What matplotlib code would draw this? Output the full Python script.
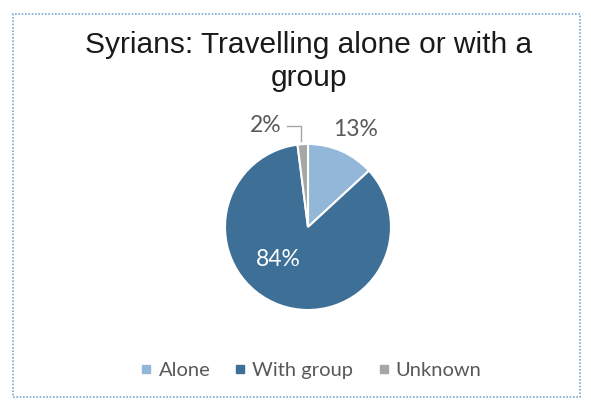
import matplotlib.pyplot as plt
from matplotlib.patches import Rectangle

labels = ["Alone", "With group", "Unknown"]
values = [13, 84, 2]
pct_text = ["13%", "84%", "2%"]
colors = ["#93B7D9", "#3D6F97", "#A6A6A6"]

fig = plt.figure(figsize=(5.91, 4.03), dpi=100)
fig.patch.set_facecolor("white")

# dotted frame round the chart area
fig.patches.append(Rectangle((13/591, 1 - 397/403), 567/591, 383/403,
                             transform=fig.transFigure, fill=False,
                             edgecolor="#7FA7D3", linestyle=(0, (1, 1)), lw=1.2))

fig.text(309/591, 1 - 45/403, "Syrians: Travelling alone or with a",
         ha="center", va="center", fontsize=21.5, family="Liberation Sans", color="#1a1a1a")
fig.text(309/591, 1 - 78/403, "group",
         ha="center", va="center", fontsize=21.5, family="Liberation Sans", color="#1a1a1a")

r_px = 83
cx, cy = 308, 227
ax = fig.add_axes([(cx - r_px)/591, 1 - (cy + r_px)/403, 2*r_px/591, 2*r_px/403])
wedges, _ = ax.pie(values, colors=colors, startangle=90, counterclock=False,
                   radius=1.0, wedgeprops=dict(edgecolor="white", linewidth=1.5))
ax.set_xlim(-1, 1)
ax.set_ylim(-1, 1)
ax.set_aspect("auto")
ax.axis("off")

lab_font = dict(family="Lato", fontsize=16.5)
# data labels
fig.text(356/591, 1 - 130/403, pct_text[0], ha="center", va="center", color="#595959", **lab_font)
fig.text(278/591, 1 - 260/403, pct_text[1], ha="center", va="center", color="white", **lab_font)
fig.text(266/591, 1 - 125/403, pct_text[2], ha="center", va="center", color="#595959", **lab_font)
# leader line for 2%
fig.add_artist(plt.Line2D([287/591, 301/591, 301/591], [1 - 126/403, 1 - 126/403, 1 - 141/403],
                          transform=fig.transFigure, color="#A6A6A6", lw=1))

# legend
handles = [plt.Line2D([], [], marker="s", ls="", color=c, markersize=6) for c in colors]
fig.legend(handles, labels, loc="center", bbox_to_anchor=(311/591, 1 - 370/403),
           ncol=3, frameon=False, handlelength=0.6, handletextpad=0.3, columnspacing=1.2,
           prop=dict(family="Lato", size=14.5), labelcolor="#595959")

fig.savefig("out.png", dpi=100, facecolor="white")
